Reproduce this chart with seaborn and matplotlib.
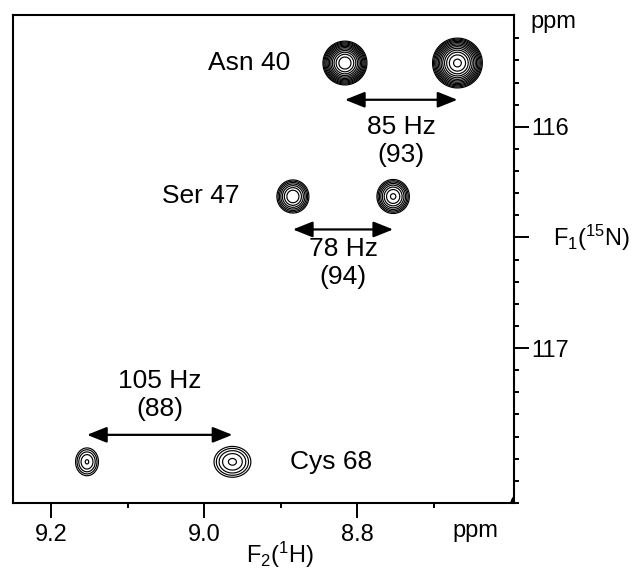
import matplotlib
matplotlib.use("Agg")
import matplotlib.pyplot as plt
import matplotlib.transforms as mtransforms
import numpy as np
import seaborn as sns

# peak table (ppm), left / right partner of each doublet
residues = ["Asn 40", "Ser 47", "Cys 68"]
peak_h_left = [8.816, 8.884, 9.153]
peak_h_right = [8.669, 8.753, 8.963]
peak_n = [115.712, 116.315, 117.514]
# how many contour levels each peak climbs above the base level
depth_left = [11.9, 7.0, 4.1]
depth_right = [12.3, 7.2, 4.2]
# line widths (ppm) in each dimension
width_h_left = [0.0115, 0.0109, 0.0102]
width_h_right = [0.0128, 0.0109, 0.0162]
width_n_left = [0.0396, 0.0390, 0.0428]
width_n_right = [0.0443, 0.0395, 0.0469]

# stray signal clipped by the lower right corner
edge_h = [8.593]
edge_n = [117.73]
edge_depth = [8.0]
edge_wh = [0.0035]
edge_wn = [0.03]

coupling = ["85 Hz", "78 Hz", "105 Hz"]
coupling_ref = ["(93)", "(94)", "(88)"]
arrow_n = [115.878, 116.464, 117.392]
coupling_n = [116.0, 116.554, 117.149]
coupling_ref_n = [116.126, 116.68, 117.275]

label_h = [8.888, 8.953, 8.888]
label_side = ["right", "right", "left"]

h_ticks = [9.2, 9.0, 8.8]
h_tick_labels = ["9.2", "9.0", "8.8"]
n_ticks = [116, 116.5, 117]
n_tick_labels = ["116", "", "117"]

sns.set_theme(style="ticks")
plt.rcParams["font.family"] = ["Liberation Sans", "DejaVu Sans"]
plt.rcParams["mathtext.fontset"] = "custom"
plt.rcParams["mathtext.rm"] = "Liberation Sans"
plt.rcParams["mathtext.it"] = "Liberation Sans:italic"
plt.rcParams["mathtext.bf"] = "Liberation Sans:bold"
plt.rcParams["text.color"] = "black"
plt.rcParams["axes.labelcolor"] = "black"

fs = 17      # axis text
fs_note = 19  # labels inside the spectrum
fig = plt.figure(figsize=(6.33, 5.73), dpi=100)
ax = fig.add_axes([0.02054, 0.12216, 0.79147, 0.85166])

# build the 2D spectrum from the peak list
H = np.linspace(9.26, 8.58, 700)
N = np.linspace(115.48, 117.76, 700)
HH, NN = np.meshgrid(H, N)
Z = np.zeros_like(HH)
ratio = 1.3


def add_peak(Z, h, n, depth, wh, wn):
    amp = ratio ** depth
    return Z + amp * np.exp(-0.5 * (((HH - h) / wh) ** 2 + ((NN - n) / wn) ** 2))


for i in range(len(residues)):
    Z = add_peak(Z, peak_h_left[i], peak_n[i], depth_left[i], width_h_left[i], width_n_left[i])
    Z = add_peak(Z, peak_h_right[i], peak_n[i], depth_right[i], width_h_right[i], width_n_right[i])
for i in range(len(edge_h)):
    Z = add_peak(Z, edge_h[i], edge_n[i], edge_depth[i], edge_wh[i], edge_wn[i])

levels = ratio ** np.arange(0, 14)
ax.contour(HH, NN, Z, levels=levels, colors="black", linewidths=0.85)

# doublet arrows and labels
for i in range(len(residues)):
    ax.annotate("", xy=(peak_h_right[i], arrow_n[i]), xytext=(peak_h_left[i], arrow_n[i]),
                arrowprops=dict(arrowstyle="<|-|>,head_length=0.75,head_width=0.3",
                                color="black", lw=1.6, shrinkA=0, shrinkB=0,
                                mutation_scale=16))
    mid = (peak_h_left[i] + peak_h_right[i]) / 2
    ax.text(mid, coupling_n[i], coupling[i], ha="center", va="center", fontsize=fs_note)
    ax.text(mid, coupling_ref_n[i], coupling_ref[i], ha="center", va="center", fontsize=fs_note)
    ax.text(label_h[i], peak_n[i], residues[i], ha=label_side[i], va="center", fontsize=fs_note)

ax.set_xlim(9.2497, 8.5951)
ax.set_ylim(117.694, 115.495)

ax.set_xticks(h_ticks)
ax.set_xticklabels(h_tick_labels)
ax.set_xticks([9.1, 8.9, 8.7], minor=True)
ax.yaxis.tick_right()
ax.set_yticks(n_ticks)
ax.set_yticklabels(n_tick_labels)
ax.set_yticks([v for v in np.round(np.arange(115.6, 117.7, 0.1), 1) if v not in n_ticks], minor=True)

ax.tick_params(axis="x", which="major", direction="out", length=11, width=1.4, pad=4, labelsize=fs, colors="black")
ax.tick_params(axis="x", which="minor", direction="out", length=3.5, width=1.4, colors="black")
ax.tick_params(axis="y", which="major", direction="out", length=11, width=1.4, pad=1.5, labelsize=fs,
               left=False, right=True, colors="black")
ax.tick_params(axis="y", which="minor", direction="out", length=3.5, width=1.4, left=False, right=True,
               colors="black")

for s in ax.spines.values():
    s.set_linewidth(1.5)
    s.set_color("black")

# axis titles
ytrans = mtransforms.blended_transform_factory(ax.transAxes, ax.transData)
ax.text(1.032, 115.554, "ppm", transform=ytrans, ha="left", va="baseline", fontsize=fs)
ax.text(1.077, 116.5, r"F$_1$($^{15}$N)", transform=ytrans, ha="left", va="center", fontsize=fs)
ax.text(0.922, -0.0697, "ppm", transform=ax.transAxes, ha="center", va="baseline", fontsize=fs)
ax.text(0.533, -0.123, r"F$_2$($^1$H)", transform=ax.transAxes, ha="center", va="baseline", fontsize=fs)

fig.savefig("out.png", dpi=100)
